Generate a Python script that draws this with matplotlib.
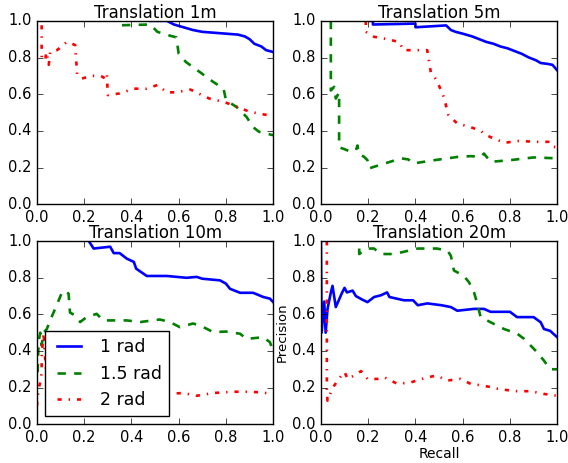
import matplotlib
matplotlib.use('Agg')
import matplotlib.pyplot as plt

# Translation 1m
t1_blue_x = [0.48, 0.55, 0.58, 0.62, 0.66, 0.70, 0.75, 0.80, 0.85, 0.88, 0.90, 0.92, 0.95, 0.97, 1.0]
t1_blue_y = [1.0, 1.0, 0.98, 0.965, 0.95, 0.94, 0.935, 0.93, 0.925, 0.915, 0.9, 0.875, 0.86, 0.84, 0.83]
t1_green_x = [0.36, 0.48, 0.51, 0.56, 0.59, 0.60, 0.63, 0.69, 0.746, 0.79, 0.80, 0.845, 0.887, 0.915, 0.94, 1.0]
t1_green_y = [0.976, 0.98, 0.94, 0.92, 0.91, 0.82, 0.776, 0.72, 0.667, 0.63, 0.567, 0.53, 0.476, 0.42, 0.395, 0.376]
t1_red_x = [0.02, 0.02, 0.035, 0.04, 0.05, 0.056, 0.085, 0.127, 0.148, 0.162, 0.17, 0.19, 0.23, 0.27, 0.29,
            0.296, 0.30, 0.35, 0.41, 0.465, 0.51, 0.55, 0.59, 0.65, 0.69, 0.73, 0.79, 0.83, 0.9, 1.0]
t1_red_y = [0.976, 0.795, 0.785, 0.83, 0.76, 0.83, 0.84, 0.885, 0.876, 0.867, 0.71, 0.685, 0.70, 0.70, 0.685,
            0.71, 0.595, 0.604, 0.63, 0.63, 0.65, 0.61, 0.61, 0.625, 0.60, 0.576, 0.558, 0.54, 0.504, 0.48]

# Translation 5m
t5_blue_x = [0.21, 0.22, 0.22, 0.40, 0.40, 0.53, 0.55, 0.57, 0.60, 0.64, 0.67, 0.70, 0.73, 0.76, 0.79,
             0.82, 0.85, 0.88, 0.91, 0.93, 0.96, 0.98, 1.0]
t5_blue_y = [1.0, 1.0, 0.98, 0.985, 0.965, 0.975, 0.95, 0.94, 0.93, 0.915, 0.9, 0.885, 0.875, 0.86, 0.85,
             0.835, 0.82, 0.8, 0.785, 0.77, 0.765, 0.76, 0.73]
t5_green_x = [0.042, 0.042, 0.056, 0.063, 0.077, 0.077, 0.1, 0.127, 0.148, 0.155, 0.16, 0.183, 0.197, 0.204,
              0.225, 0.27, 0.34, 0.37, 0.39, 0.48, 0.58, 0.634, 0.676, 0.69, 0.718, 0.80, 0.9, 1.0]
t5_green_y = [1.0, 0.62, 0.64, 0.576, 0.61, 0.31, 0.30, 0.285, 0.295, 0.32, 0.276, 0.258, 0.24, 0.195,
              0.204, 0.222, 0.25, 0.244, 0.222, 0.24, 0.258, 0.262, 0.258, 0.276, 0.231, 0.24, 0.255, 0.25]
t5_red_x = [0.19, 0.19, 0.225, 0.28, 0.33, 0.35, 0.40, 0.45, 0.465, 0.49, 0.52, 0.54, 0.577, 0.634, 0.676,
            0.70, 0.746, 0.78, 0.83, 0.915, 0.97, 0.985, 1.0]
t5_red_y = [1.0, 0.94, 0.913, 0.9, 0.885, 0.84, 0.84, 0.84, 0.72, 0.676, 0.585, 0.485, 0.44, 0.42, 0.40,
            0.376, 0.35, 0.335, 0.345, 0.34, 0.34, 0.313, 0.31]

# Translation 10m
t10_blue_x = [0.22, 0.24, 0.31, 0.325, 0.35, 0.38, 0.41, 0.42, 0.465, 0.55, 0.634, 0.676, 0.70, 0.775,
              0.80, 0.817, 0.86, 0.915, 0.958, 0.986, 1.0]
t10_blue_y = [1.0, 0.96, 0.97, 0.935, 0.935, 0.905, 0.887, 0.85, 0.81, 0.81, 0.80, 0.805, 0.795, 0.786,
              0.768, 0.74, 0.718, 0.718, 0.695, 0.686, 0.667]
t10_green_x = [0.003, 0.007, 0.014, 0.02, 0.028, 0.042, 0.056, 0.077, 0.106, 0.12, 0.134, 0.14, 0.162,
               0.183, 0.21, 0.253, 0.28, 0.338, 0.38, 0.437, 0.52, 0.563, 0.605, 0.66, 0.69, 0.746, 0.80,
               0.86, 0.887, 0.958, 0.986, 1.0]
t10_green_y = [0.283, 0.45, 0.50, 0.43, 0.50, 0.52, 0.567, 0.63, 0.72, 0.73, 0.713, 0.61, 0.594, 0.558,
               0.585, 0.603, 0.567, 0.567, 0.567, 0.558, 0.572, 0.558, 0.53, 0.55, 0.54, 0.503, 0.506,
               0.494, 0.466, 0.475, 0.448, 0.40]
t10_red_x = [0.0, 0.007, 0.014, 0.02, 0.02, 0.028, 0.04, 0.1, 0.2, 0.3, 0.4, 0.54, 0.62, 0.676, 0.746,
             0.83, 0.887, 0.944, 1.0]
t10_red_y = [0.1, 0.19, 0.23, 0.28, 0.37, 0.5, 0.25, 0.2, 0.18, 0.17, 0.17, 0.165, 0.17, 0.155, 0.17,
             0.177, 0.177, 0.174, 0.165]

# Translation 20m
t20_blue_x = [0.0, 0.003, 0.014, 0.02, 0.028, 0.042, 0.049, 0.063, 0.09, 0.1, 0.11, 0.134, 0.148, 0.176,
              0.197, 0.225, 0.253, 0.28, 0.29, 0.324, 0.352, 0.39, 0.41, 0.45, 0.51, 0.55, 0.577, 0.648,
              0.69, 0.718, 0.80, 0.83, 0.9, 0.93, 0.944, 0.97, 1.0]
t20_blue_y = [1.0, 0.5, 0.67, 0.5, 0.63, 0.72, 0.756, 0.64, 0.72, 0.745, 0.72, 0.73, 0.70, 0.68,
              0.667, 0.695, 0.704, 0.72, 0.695, 0.685, 0.677, 0.677, 0.65, 0.66, 0.65, 0.64, 0.62, 0.63,
              0.63, 0.614, 0.614, 0.585, 0.585, 0.557, 0.52, 0.51, 0.475]
t20_green_x = [0.162, 0.162, 0.197, 0.225, 0.253, 0.31, 0.41, 0.49, 0.535, 0.55, 0.563, 0.605, 0.627,
               0.648, 0.66, 0.676, 0.718, 0.775, 0.83, 0.86, 0.915, 0.944, 0.97, 1.0]
t20_green_y = [0.96, 0.93, 0.96, 0.96, 0.93, 0.93, 0.96, 0.96, 0.95, 0.92, 0.84, 0.81, 0.775,
               0.72, 0.667, 0.585, 0.557, 0.52, 0.495, 0.466, 0.393, 0.347, 0.30, 0.30]
t20_red_x = [0.025, 0.025, 0.028, 0.042, 0.056, 0.077, 0.1, 0.113, 0.14, 0.17, 0.197, 0.24, 0.268, 0.324,
             0.38, 0.45, 0.49, 0.535, 0.59, 0.634, 0.69, 0.76, 0.83, 0.887, 0.944, 1.0]
t20_red_y = [1.0, 0.174, 0.128, 0.174, 0.21, 0.25, 0.285, 0.247, 0.265, 0.29, 0.247, 0.247, 0.256, 0.22,
             0.228, 0.256, 0.265, 0.238, 0.247, 0.22, 0.21, 0.19, 0.18, 0.18, 0.165, 0.155]

titles = ['Translation 1m', 'Translation 5m', 'Translation 10m', 'Translation 20m']
labels = ['1 rad', '1.5 rad', '2 rad']

panels = [
    (t1_blue_x, t1_blue_y, t1_green_x, t1_green_y, t1_red_x, t1_red_y),
    (t5_blue_x, t5_blue_y, t5_green_x, t5_green_y, t5_red_x, t5_red_y),
    (t10_blue_x, t10_blue_y, t10_green_x, t10_green_y, t10_red_x, t10_red_y),
    (t20_blue_x, t20_blue_y, t20_green_x, t20_green_y, t20_red_x, t20_red_y),
]

plt.style.use('classic')
fig = plt.figure(figsize=(5.68, 4.63), dpi=100, facecolor='white')

# axes boxes in figure fractions
boxes = [
    [0.065, 0.559, 0.416, 0.396],
    [0.565, 0.559, 0.416, 0.396],
    [0.065, 0.084, 0.416, 0.395],
    [0.565, 0.084, 0.416, 0.395],
]

for i, (bx, by, gx, gy, rx, ry) in enumerate(panels):
    ax = fig.add_axes(boxes[i])
    ax.plot(bx, by, color='b', linestyle='-', linewidth=1.9, label=labels[0])
    ax.plot(gx, gy, color='g', linestyle='--', linewidth=1.9, label=labels[1])
    ax.plot(rx, ry, color='r', linestyle='-.', linewidth=1.9, label=labels[2])
    ax.set_xlim(0, 1)
    ax.set_ylim(0, 1)
    ax.set_xticks([0.0, 0.2, 0.4, 0.6, 0.8, 1.0])
    ax.set_yticks([0.0, 0.2, 0.4, 0.6, 0.8, 1.0])
    ax.tick_params(labelsize=10.5)
    ax.set_title(titles[i], fontsize=12, pad=2)
    if i == 2:
        leg = ax.legend(loc='lower left', fontsize=12.5, borderaxespad=0.45)
        leg.get_frame().set_linewidth(1)
    if i == 3:
        ax.set_xlabel('Recall', fontsize=10, labelpad=2)
        ax.set_ylabel('Precision', fontsize=9.5, labelpad=2)

fig.savefig('out.png', dpi=100, facecolor='white')
